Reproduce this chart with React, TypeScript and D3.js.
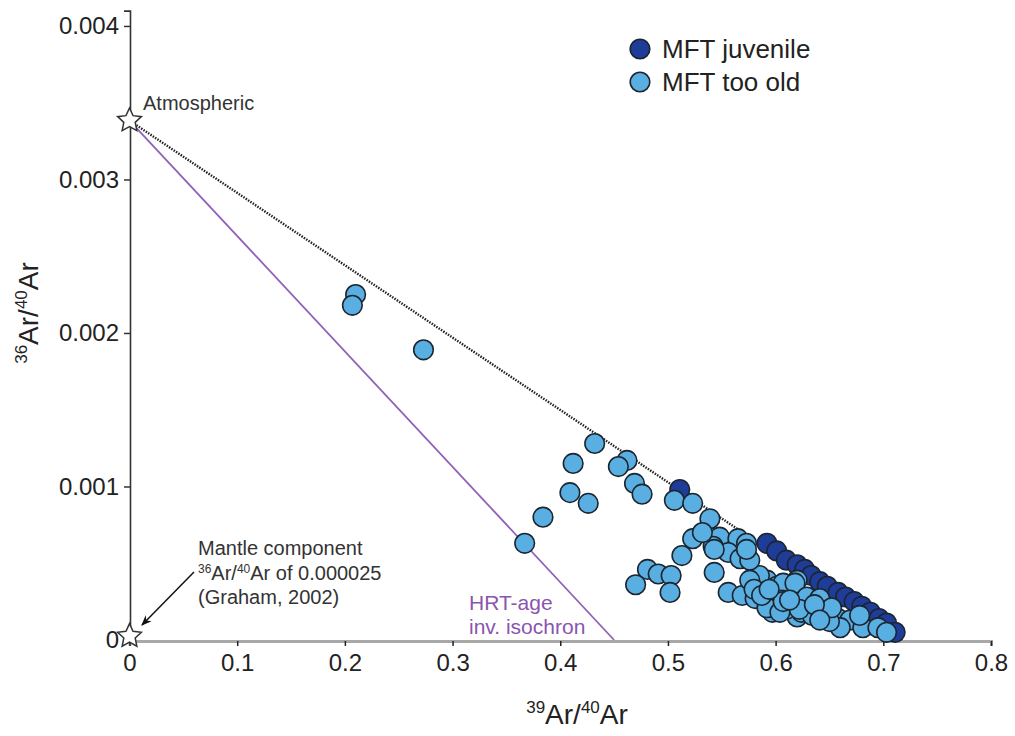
import React, { useEffect, useRef } from "react";
import * as d3 from "d3";

// 39Ar/40Ar (x) and 36Ar/40Ar (y) for the two sample groups
const oldX = [
  0.21, 0.207, 0.273, 0.432, 0.412, 0.462, 0.454, 0.469, 0.476, 0.409, 0.426,
  0.384, 0.367, 0.506, 0.523, 0.539, 0.523, 0.513, 0.548, 0.542, 0.532, 0.565,
  0.573, 0.556, 0.567, 0.543, 0.481, 0.491, 0.503, 0.47, 0.502, 0.543, 0.556,
  0.569, 0.581, 0.592, 0.585, 0.601, 0.595, 0.602, 0.597, 0.613, 0.62, 0.62,
  0.607, 0.618, 0.629, 0.641, 0.624, 0.634, 0.645, 0.658, 0.669, 0.66, 0.681,
  0.695, 0.703, 0.606, 0.61, 0.65, 0.576, 0.652, 0.576, 0.58, 0.592, 0.604,
  0.607, 0.573, 0.622, 0.587, 0.594, 0.613, 0.636, 0.641, 0.678,
];
const oldY = [
  0.00225, 0.00218, 0.00189, 0.00128, 0.00115, 0.00117, 0.00113, 0.00102,
  0.00095, 0.00096, 0.00089, 0.0008, 0.00063, 0.00091, 0.00089, 0.00079,
  0.00066, 0.00055, 0.00067, 0.00061, 0.0007, 0.00066, 0.00063, 0.00057,
  0.00053, 0.00059, 0.00046, 0.00043, 0.00042, 0.00036, 0.00031, 0.00044,
  0.00031, 0.00029, 0.00027, 0.00039, 0.00042, 0.00035, 0.00026, 0.00021,
  0.00018, 0.0002, 0.00015, 0.00039, 0.00037, 0.00037, 0.00028, 0.00027,
  0.00018, 0.00016, 0.00018, 0.00014, 0.00013, 0.00008, 0.00008, 0.00008,
  0.00005, 0.00026, 0.0002, 0.00012, 0.00052, 0.00021, 0.00039, 0.00033,
  0.00021, 0.00018, 0.00025, 0.00059, 0.0002, 0.00029, 0.00033, 0.00026,
  0.00023, 0.00013, 0.00016,
];
const juvX = [
  0.511, 0.592, 0.601, 0.61, 0.62, 0.627, 0.633, 0.641, 0.648, 0.658, 0.665,
  0.673, 0.68, 0.688, 0.696, 0.703, 0.711,
];
const juvY = [
  0.00098, 0.00063, 0.00058, 0.00052, 0.00049, 0.00046, 0.00042, 0.00038,
  0.00035, 0.00031, 0.00028, 0.00025, 0.00022, 0.00018, 0.00014, 0.00011,
  0.00005,
];

const xTicks = [0, 0.1, 0.2, 0.3, 0.4, 0.5, 0.6, 0.7, 0.8];
const yTicks = [0, 0.001, 0.002, 0.003, 0.004];
const legendLabels = ["MFT juvenile", "MFT too old"];

const atmosphericRatio = 0.003384;
const mantleRatio = 0.000025;
const atmMixX = 0.718; // dotted mixing line intercept
const isochronX = 0.45; // HRT-age inverse isochron intercept

const juvColor = "#1f3c98";
const oldColor = "#5aafe2";
const font = "'Liberation Sans', Arial, sans-serif";

function App() {
  const ref = useRef<SVGSVGElement>(null);

  useEffect(() => {
    const svg = d3.select(ref.current);
    svg.selectAll("*").remove();

    const x = d3.scaleLinear().domain([0, 0.8]).range([129.5, 991]);
    const y = d3.scaleLinear().domain([0, 0.0041]).range([640, 10.6]);

    // axes
    const gx = svg
      .append("g")
      .attr("transform", "translate(0,641)")
      .call(
        d3
          .axisBottom(x)
          .tickValues(xTicks)
          .tickSize(5)
          .tickPadding(8)
          .tickFormat((d) => (d === 0 ? "0" : d3.format(".1f")(d as number)))
      );
    gx.select(".domain").attr("stroke", "#a8a8a8").attr("stroke-width", 3);
    gx.selectAll(".tick line").attr("stroke", "#222").attr("stroke-width", 1.5);
    gx.selectAll("text")
      .attr("font-size", 24)
      .attr("font-family", font)
      .attr("fill", "#222");

    const gy = svg
      .append("g")
      .attr("transform", "translate(130,0)")
      .call(
        d3
          .axisLeft(y)
          .tickValues(yTicks)
          .tickSize(6)
          .tickPadding(5)
          .tickFormat((d) => (d === 0 ? "0" : d3.format(".3f")(d as number)))
      );
    gy.select(".domain").attr("stroke", "#333").attr("stroke-width", 1.6);
    gy.selectAll(".tick line").attr("stroke", "#333").attr("stroke-width", 1.5);
    gy.selectAll("text")
      .attr("font-size", 24)
      .attr("font-family", font)
      .attr("fill", "#222");
    gy.selectAll(".tick")
      .filter((d) => d === 0)
      .select("line")
      .remove();

    // axis titles
    const xt = svg
      .append("text")
      .attr("x", 577)
      .attr("y", 724)
      .attr("text-anchor", "middle")
      .attr("font-family", font)
      .attr("font-size", 28)
      .attr("fill", "#222");
    xt.append("tspan").attr("font-size", 17).attr("dy", -11).text("39");
    xt.append("tspan").attr("dy", 11).text("Ar/");
    xt.append("tspan").attr("font-size", 17).attr("dy", -11).text("40");
    xt.append("tspan").attr("dy", 11).text("Ar");

    const yt = svg
      .append("text")
      .attr("transform", "translate(38,313) rotate(-90)")
      .attr("text-anchor", "middle")
      .attr("font-family", font)
      .attr("font-size", 28)
      .attr("fill", "#222");
    yt.append("tspan").attr("font-size", 17).attr("dy", -11).text("36");
    yt.append("tspan").attr("dy", 11).text("Ar/");
    yt.append("tspan").attr("font-size", 17).attr("dy", -11).text("40");
    yt.append("tspan").attr("dy", 11).text("Ar");

    // reference lines
    svg
      .append("line")
      .attr("x1", x(0))
      .attr("y1", y(atmosphericRatio))
      .attr("x2", x(isochronX))
      .attr("y2", y(0))
      .attr("stroke", "#9160b8")
      .attr("stroke-width", 1.8);
    svg
      .append("line")
      .attr("x1", x(0))
      .attr("y1", y(atmosphericRatio))
      .attr("x2", x(atmMixX))
      .attr("y2", y(0))
      .attr("stroke", "#222")
      .attr("stroke-width", 2.4)
      .attr("stroke-dasharray", "1.5,1.3");

    // points
    const drawPoints = (xs: number[], ys: number[], color: string) => {
      svg
        .append("g")
        .selectAll("circle")
        .data(xs.map((v, i) => [v, ys[i]]))
        .enter()
        .append("circle")
        .attr("cx", (d) => x(d[0]))
        .attr("cy", (d) => y(d[1]))
        .attr("r", 9.8)
        .attr("fill", color)
        .attr("stroke", "#1c2630")
        .attr("stroke-width", 1.6);
    };
    drawPoints(juvX, juvY, juvColor);
    drawPoints(oldX, oldY, oldColor);

    // stars
    const star = d3
      .lineRadial<number>()
      .angle((d, i) => (i * Math.PI) / 5)
      .radius((d) => d)
      .curve(d3.curveLinearClosed);
    const starPts = d3.range(10).map((i) => (i % 2 === 0 ? 12.5 : 6));
    [atmosphericRatio, mantleRatio].forEach((r) => {
      svg
        .append("path")
        .attr("d", star(starPts))
        .attr("transform", `translate(${x(0)},${y(r)})`)
        .attr("fill", "#fff")
        .attr("stroke", "#333")
        .attr("stroke-width", 1.5);
    });

    // annotations
    svg
      .append("text")
      .attr("x", 143)
      .attr("y", 110)
      .attr("font-family", font)
      .attr("font-size", 20)
      .attr("fill", "#333")
      .text("Atmospheric");

    const mt = svg
      .append("g")
      .attr("font-family", font)
      .attr("font-size", 20)
      .attr("fill", "#333");
    mt.append("text").attr("x", 198).attr("y", 555).text("Mantle component");
    const m2 = mt.append("text").attr("x", 198).attr("y", 580);
    m2.append("tspan").attr("font-size", 12).attr("dy", -7).text("36");
    m2.append("tspan").attr("dy", 7).text("Ar/");
    m2.append("tspan").attr("font-size", 12).attr("dy", -7).text("40");
    m2.append("tspan").attr("dy", 7).text("Ar of 0.000025");
    mt.append("text").attr("x", 198).attr("y", 604).text("(Graham, 2002)");

    svg
      .append("defs")
      .append("marker")
      .attr("id", "arrow")
      .attr("viewBox", "0 0 10 10")
      .attr("refX", 9)
      .attr("refY", 5)
      .attr("markerWidth", 7)
      .attr("markerHeight", 7)
      .attr("orient", "auto")
      .append("path")
      .attr("d", "M0,1 L10,5 L0,9 L3,5 Z")
      .attr("fill", "#111");
    svg
      .append("line")
      .attr("x1", 194)
      .attr("y1", 572)
      .attr("x2", 142)
      .attr("y2", 625)
      .attr("stroke", "#111")
      .attr("stroke-width", 1.5)
      .attr("marker-end", "url(#arrow)");

    const ht = svg
      .append("g")
      .attr("font-family", font)
      .attr("font-size", 21)
      .attr("fill", "#8a55ae");
    ht.append("text").attr("x", 469).attr("y", 610).text("HRT-age");
    ht.append("text").attr("x", 469).attr("y", 634).text("inv. isochron");

    // legend
    const lg = svg.append("g").attr("font-family", font).attr("font-size", 26);
    legendLabels.forEach((lab, i) => {
      const cy = 49 + i * 33;
      lg.append("circle")
        .attr("cx", 640)
        .attr("cy", cy)
        .attr("r", 9.8)
        .attr("fill", i === 0 ? juvColor : oldColor)
        .attr("stroke", "#1c2630")
        .attr("stroke-width", 1.6);
      lg.append("text")
        .attr("x", 662)
        .attr("y", cy + 9)
        .attr("fill", "#222")
        .text(lab);
    });
  }, []);

  return (
    <svg
      ref={ref}
      width={1015}
      height={736}
      style={{ position: "absolute", left: 0, top: 0, background: "#fff" }}
    />
  );
}

export default App;
